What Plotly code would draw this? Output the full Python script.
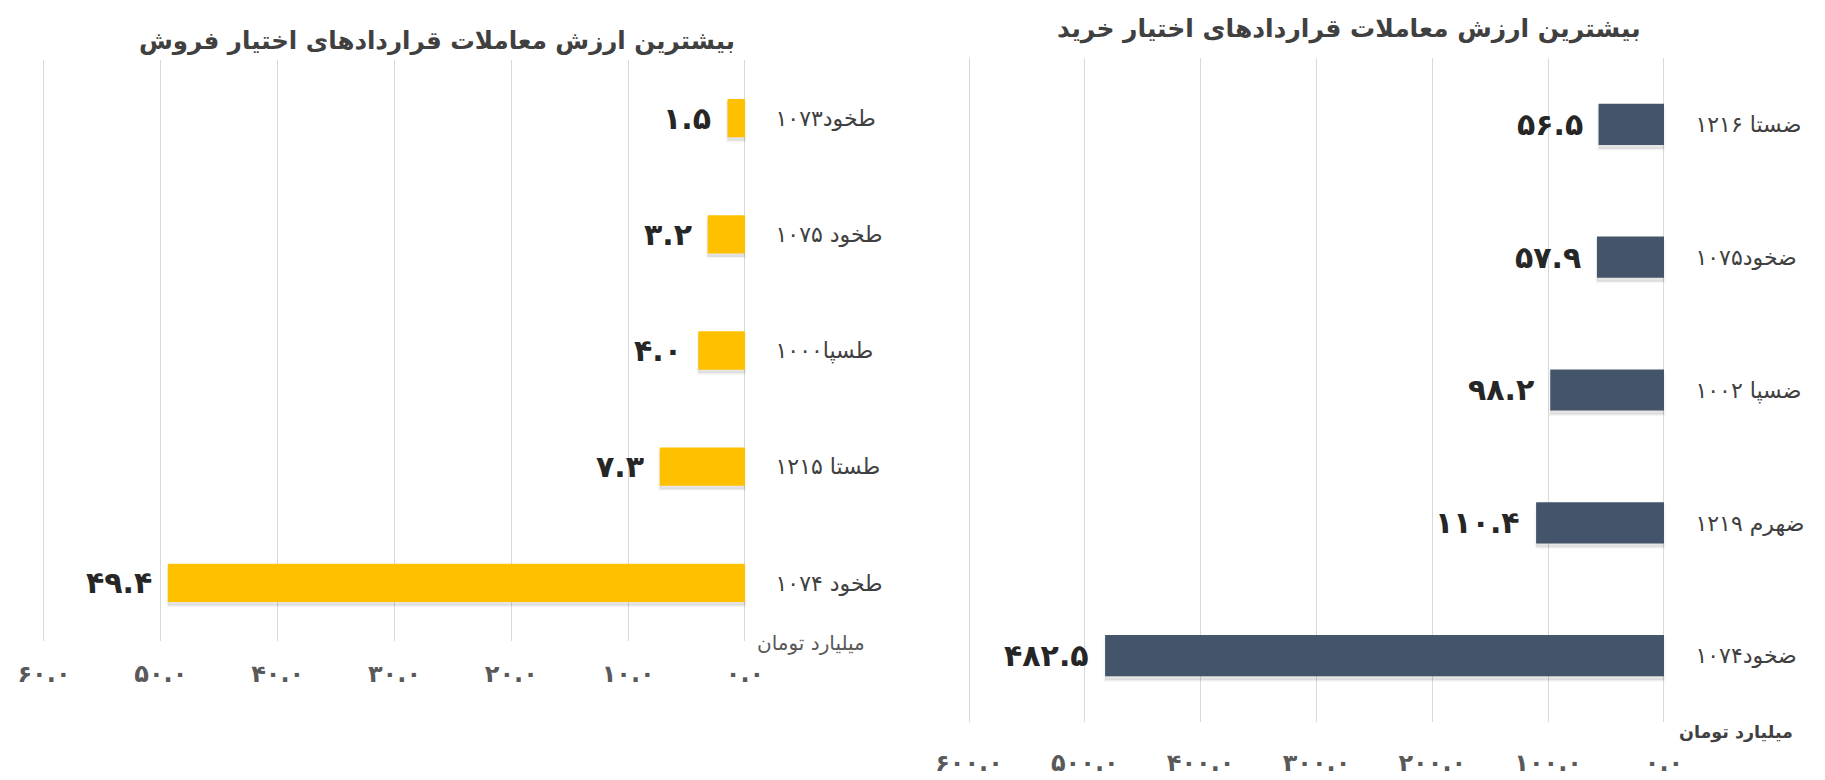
import plotly.graph_objects as go

# ---------------- data ----------------
sell_categories = ["طخود۱۰۷۳", "طخود ۱۰۷۵", "طسپا۱۰۰۰", "طستا ۱۲۱۵", "طخود ۱۰۷۴"]
sell_values = [1.5, 3.2, 4.0, 7.3, 49.4]

buy_categories = ["ضستا ۱۲۱۶", "ضخود۱۰۷۵", "ضسپا ۱۰۰۲", "ضهرم ۱۲۱۹", "ضخود۱۰۷۴"]
buy_values = [56.5, 57.9, 98.2, 110.4, 482.5]

sell_ticks = [0, 10, 20, 30, 40, 50, 60]
buy_ticks = [0, 100, 200, 300, 400, 500, 600]

sell_title = "بیشترین ارزش معاملات قراردادهای اختیار فروش"
buy_title = "بیشترین ارزش معاملات قراردادهای اختیار خرید"
unit_label = "میلیارد تومان"

# ---------------- helpers ----------------
FA_DIGITS = str.maketrans("0123456789", "۰۱۲۳۴۵۶۷۸۹")


def fa(v):
    return f"{v:.1f}".translate(FA_DIGITS)


W, H = 1825, 780
FONT = "DejaVu Sans"
SELL_COLOR = "#FFC000"
BUY_COLOR = "#44546A"
GRID = "#d9d9d9"


def px_x(p):
    return p / W


def px_y(p):
    return 1 - p / H


fig = go.Figure()

# soft drop shadows
fig.add_trace(go.Bar(x=sell_values, y=sell_categories, orientation="h",
                     width=0.33, offset=-0.165 + 0.03,
                     marker=dict(color="rgba(0,0,0,0.10)",
                                 line=dict(color="rgba(0,0,0,0.04)", width=3)),
                     xaxis="x", yaxis="y", hoverinfo="skip"))
fig.add_trace(go.Bar(x=buy_values, y=buy_categories, orientation="h",
                     width=0.31, offset=-0.155 + 0.03,
                     marker=dict(color="rgba(0,0,0,0.10)",
                                 line=dict(color="rgba(0,0,0,0.04)", width=3)),
                     xaxis="x2", yaxis="y2", hoverinfo="skip"))

# bars
fig.add_trace(go.Bar(x=sell_values, y=sell_categories, orientation="h",
                     width=0.33, offset=-0.165,
                     marker=dict(color=SELL_COLOR, line=dict(width=0)),
                     xaxis="x", yaxis="y"))
fig.add_trace(go.Bar(x=buy_values, y=buy_categories, orientation="h",
                     width=0.31, offset=-0.155,
                     marker=dict(color=BUY_COLOR, line=dict(width=0)),
                     xaxis="x2", yaxis="y2"))

LABEL_FONT = dict(family=FONT, size=30, color="#262626", weight="bold")
annotations = []
for c, v in zip(sell_categories, sell_values):
    annotations.append(dict(x=v, y=c, xref="x", yref="y", text=fa(v),
                            xanchor="right", yanchor="middle", xshift=-14,
                            showarrow=False, font=LABEL_FONT))
for c, v in zip(buy_categories, buy_values):
    annotations.append(dict(x=v, y=c, xref="x2", yref="y2", text=fa(v),
                            xanchor="right", yanchor="middle", xshift=-14,
                            showarrow=False, font=LABEL_FONT))

# titles
annotations.append(dict(x=px_x(437), y=px_y(41), xref="paper", yref="paper",
                        text=sell_title, showarrow=False, xanchor="center",
                        yanchor="middle",
                        font=dict(family=FONT, size=24.5, color="#404040",
                                  weight="bold")))
annotations.append(dict(x=px_x(1349), y=px_y(29), xref="paper", yref="paper",
                        text=buy_title, showarrow=False, xanchor="center",
                        yanchor="middle",
                        font=dict(family=FONT, size=25, color="#404040",
                                  weight="bold")))
# unit labels
annotations.append(dict(x=px_x(755), y=px_y(643), xref="paper", yref="paper",
                        text=unit_label, showarrow=False, xanchor="left",
                        yanchor="middle",
                        font=dict(family=FONT, size=20, color="#595959")))
annotations.append(dict(x=px_x(1677), y=px_y(732), xref="paper", yref="paper",
                        text=unit_label, showarrow=False, xanchor="left",
                        yanchor="middle",
                        font=dict(family=FONT, size=17.5, color="#404040",
                                  weight="bold")))

# axis geometry
s_ppu = (745 - 44) / 60.0
s_pad = 0.3
b_ppu = (1664 - 969) / 600.0
b_pad = 3

common_x = dict(showgrid=True, gridcolor=GRID, gridwidth=1, zeroline=True,
                zerolinecolor=GRID, zerolinewidth=1, showline=False, ticks="",
                automargin=False,
                tickfont=dict(family=FONT, size=24, color="#595959",
                              weight="bold"),
                fixedrange=True)
common_y = dict(type="category", range=[4.5, -0.5], side="right",
                showgrid=False, zeroline=False, showline=False, ticks="",
                automargin=False,
                tickfont=dict(family=FONT, size=22, color="#404040"),
                fixedrange=True)

fig.update_layout(
    width=W, height=H,
    margin=dict(l=0, r=0, t=0, b=0, autoexpand=False),
    paper_bgcolor="white", plot_bgcolor="white",
    showlegend=False, barmode="overlay",
    xaxis=dict(common_x, range=[60 + s_pad, -s_pad],
               domain=[px_x(44 - s_pad * s_ppu), px_x(745 + s_pad * s_ppu)],
               anchor="y", tickvals=sell_ticks,
               ticktext=[fa(t) for t in sell_ticks], ticklabelstandoff=16),
    yaxis=dict(common_y, domain=[px_y(641), px_y(60)], anchor="x",
               categoryorder="array", categoryarray=sell_categories,
               ticklabelstandoff=26),
    xaxis2=dict(common_x, range=[600 + b_pad, -b_pad],
                domain=[px_x(969 - b_pad * b_ppu), px_x(1664 + b_pad * b_ppu)],
                anchor="y2", tickvals=buy_ticks,
                ticktext=[fa(t) for t in buy_ticks], ticklabelstandoff=24),
    yaxis2=dict(common_y, domain=[px_y(722), px_y(58)], anchor="x2",
                categoryorder="array", categoryarray=buy_categories,
                ticklabelstandoff=27),
    annotations=annotations,
)

fig.write_html("out.html")
